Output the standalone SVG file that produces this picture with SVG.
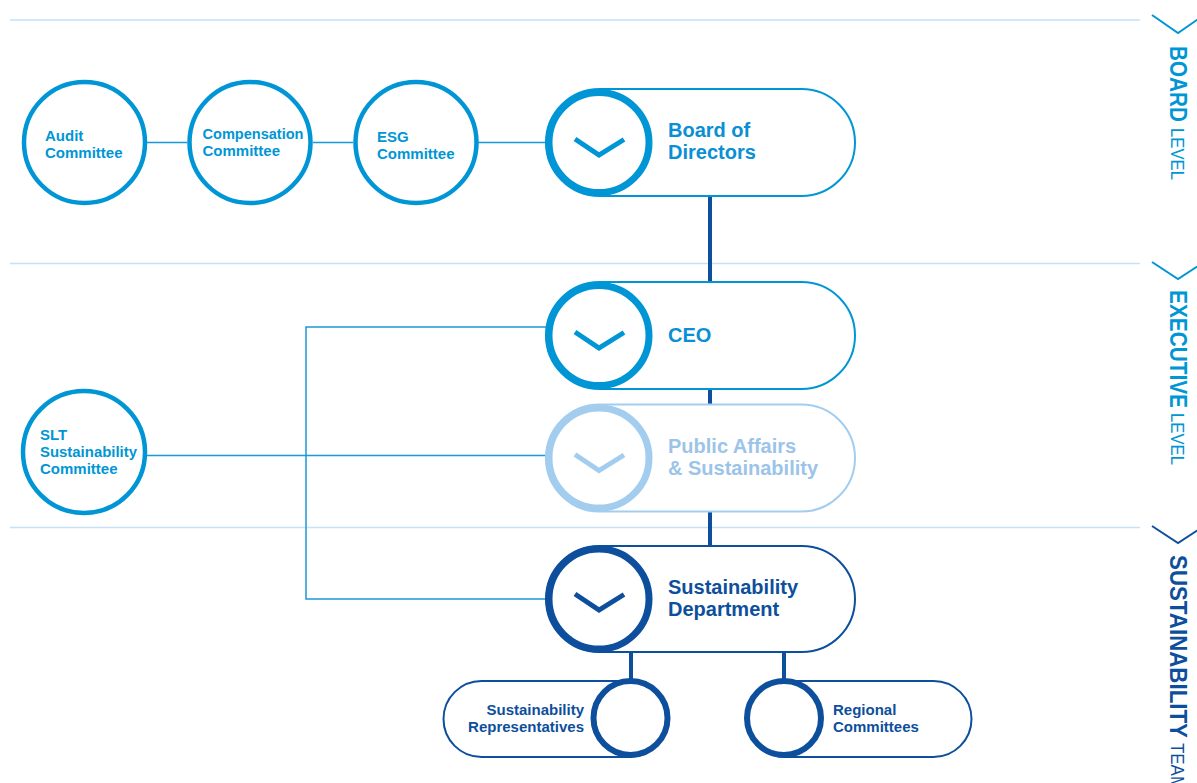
<svg xmlns="http://www.w3.org/2000/svg" width="1197" height="783" viewBox="0 0 1197 783">
  <style>
    .bg { fill: #ffffff; }
    .sep { stroke: #c6e2f6; stroke-width: 1.5; fill: none; }
    .thin { stroke: #1b98d8; stroke-width: 1.5; fill: none; }
    .trunk { stroke: #0d4f9c; stroke-width: 4; fill: none; }
    .ring { fill: #ffffff; stroke: #0096d6; stroke-width: 4.5; }
    .pill { fill: #ffffff; stroke-width: 2; }
    .badge { fill: #ffffff; stroke-width: 7; }
    .dot { fill: #ffffff; stroke-width: 6; }
    .chev { fill: none; stroke-width: 5; }
    .lbl { font-family: "Liberation Sans", Arial, sans-serif; font-weight: bold; font-size: 15px; }
    .big { font-family: "Liberation Sans", Arial, sans-serif; font-weight: bold; font-size: 20px; }
    .lvl-b { font-family: "Liberation Sans", Arial, sans-serif; font-weight: bold; font-size: 24px; }
    .lvl-r { font-family: "Liberation Sans", Arial, sans-serif; font-weight: normal; font-size: 19px; }
    .mid { stroke: #0096d6; }
    .pale { stroke: #a3cdef; }
    .deep { stroke: #0d4f9c; }
    .lvl-mark { fill: none; stroke-width: 2; }
  </style>

  <rect class="bg" x="0" y="0" width="1197" height="783"/>

  <!-- level separators -->
  <g id="separators">
    <line class="sep" x1="10" y1="20" x2="1140" y2="20"/>
    <line class="sep" x1="10" y1="263.5" x2="1140" y2="263.5"/>
    <line class="sep" x1="10" y1="527.5" x2="1140" y2="527.5"/>
  </g>

  <!-- level captions on the right edge -->
  <g id="level-board">
    <polyline class="lvl-mark mid" points="1152,15 1178,33 1204,15"/>
    <text class="lvl-b" fill="#0096d6" transform="translate(1170,46) rotate(90)" textLength="76" lengthAdjust="spacingAndGlyphs">BOARD</text>
    <text class="lvl-r" fill="#0096d6" transform="translate(1170.5,128) rotate(90)" textLength="52" lengthAdjust="spacingAndGlyphs">LEVEL</text>
  </g>
  <g id="level-executive">
    <polyline class="lvl-mark mid" points="1152,262 1178,279 1204,262"/>
    <text class="lvl-b" fill="#0096d6" transform="translate(1170,290) rotate(90)" textLength="118" lengthAdjust="spacingAndGlyphs">EXECUTIVE</text>
    <text class="lvl-r" fill="#0096d6" transform="translate(1170.5,413) rotate(90)" textLength="52" lengthAdjust="spacingAndGlyphs">LEVEL</text>
  </g>
  <g id="level-team">
    <polyline class="lvl-mark deep" points="1152,526 1178,543 1204,526"/>
    <text class="lvl-b" fill="#0d4f9c" transform="translate(1170,555) rotate(90)" textLength="183" lengthAdjust="spacingAndGlyphs">SUSTAINABILITY</text>
    <text class="lvl-r" fill="#0d4f9c" transform="translate(1170.5,743) rotate(90)" textLength="47" lengthAdjust="spacingAndGlyphs">TEAM</text>
  </g>

  <!-- connectors -->
  <g id="connectors">
    <line class="trunk" x1="710" y1="190" x2="710" y2="552"/>
    <line class="trunk" x1="631" y1="648" x2="631" y2="684"/>
    <line class="trunk" x1="784" y1="648" x2="784" y2="684"/>
    <line class="thin" x1="147" y1="142.5" x2="187" y2="142.5"/>
    <line class="thin" x1="313" y1="142.5" x2="353" y2="142.5"/>
    <line class="thin" x1="478" y1="142.5" x2="550" y2="142.5"/>
    <polyline class="thin" points="550,327 306,327 306,599 550,599"/>
    <line class="thin" x1="147" y1="455.5" x2="550" y2="455.5"/>
  </g>

  <!-- board committees -->
  <g id="audit-committee">
    <circle class="ring" cx="84.5" cy="142.5" r="60.5"/>
    <text class="lbl" fill="#0096d6" x="45" y="141">Audit</text>
    <text class="lbl" fill="#0096d6" x="45" y="157.5">Committee</text>
  </g>
  <g id="compensation-committee">
    <circle class="ring" cx="250" cy="142.5" r="60.5"/>
    <text class="lbl" fill="#0096d6" x="202.5" y="139" textLength="101" lengthAdjust="spacingAndGlyphs">Compensation</text>
    <text class="lbl" fill="#0096d6" x="202.5" y="156">Committee</text>
  </g>
  <g id="esg-committee">
    <circle class="ring" cx="416" cy="142.5" r="60.5"/>
    <text class="lbl" fill="#0096d6" x="377" y="142">ESG</text>
    <text class="lbl" fill="#0096d6" x="377" y="158.5">Committee</text>
  </g>

  <g id="slt-committee">
    <circle class="ring" cx="84" cy="452" r="61"/>
    <text class="lbl" fill="#0096d6" x="40" y="440">SLT</text>
    <text class="lbl" fill="#0096d6" x="40" y="457" textLength="97" lengthAdjust="spacingAndGlyphs">Sustainability</text>
    <text class="lbl" fill="#0096d6" x="40" y="474">Committee</text>
  </g>

  <!-- main chain -->
  <g id="board-of-directors">
    <rect class="pill mid" x="546" y="89" width="309" height="107" rx="53.5"/>
    <circle class="badge mid" cx="599" cy="142.5" r="50"/>
    <polyline class="chev mid" points="575,139 599,155 624,139.5"/>
    <text class="big" fill="#0a8fd4" x="668" y="137">Board of</text>
    <text class="big" fill="#0a8fd4" x="668" y="159">Directors</text>
  </g>

  <g id="ceo">
    <rect class="pill mid" x="546" y="282" width="309" height="107" rx="53.5"/>
    <circle class="badge mid" cx="599" cy="335.5" r="50"/>
    <polyline class="chev mid" points="575,332 599,348 624,332.5"/>
    <text class="big" fill="#0a8fd4" x="668" y="342">CEO</text>
  </g>

  <g id="public-affairs">
    <rect class="pill pale" x="546" y="404.5" width="309" height="107" rx="53.5"/>
    <circle class="badge pale" cx="599" cy="458" r="50"/>
    <polyline class="chev pale" points="575,454.5 599,470.5 624,455"/>
    <text class="big" fill="#9cc4e8" x="668" y="453">Public Affairs</text>
    <text class="big" fill="#9cc4e8" x="668" y="474.5">&amp; Sustainability</text>
  </g>

  <g id="sustainability-department">
    <rect class="pill deep" x="546" y="546" width="309" height="106" rx="53"/>
    <circle class="badge deep" cx="599" cy="599" r="50"/>
    <polyline class="chev deep" points="575,594 599,610 624,594.5"/>
    <text class="big" fill="#0d4f9c" x="668" y="594">Sustainability</text>
    <text class="big" fill="#0d4f9c" x="668" y="616">Department</text>
  </g>

  <!-- team units -->
  <g id="sustainability-representatives">
    <rect class="pill deep" x="443.5" y="681" width="224" height="76" rx="38"/>
    <circle class="dot deep" cx="630.5" cy="718" r="37"/>
    <text class="lbl" fill="#0d4f9c" x="584" y="715" text-anchor="end">Sustainability</text>
    <text class="lbl" fill="#0d4f9c" x="584" y="732" text-anchor="end">Representatives</text>
  </g>
  <g id="regional-committees">
    <rect class="pill deep" x="747" y="681" width="224.5" height="76" rx="38"/>
    <circle class="dot deep" cx="784" cy="718" r="37"/>
    <text class="lbl" fill="#0d4f9c" x="833" y="715">Regional</text>
    <text class="lbl" fill="#0d4f9c" x="833" y="732">Committees</text>
  </g>
</svg>
